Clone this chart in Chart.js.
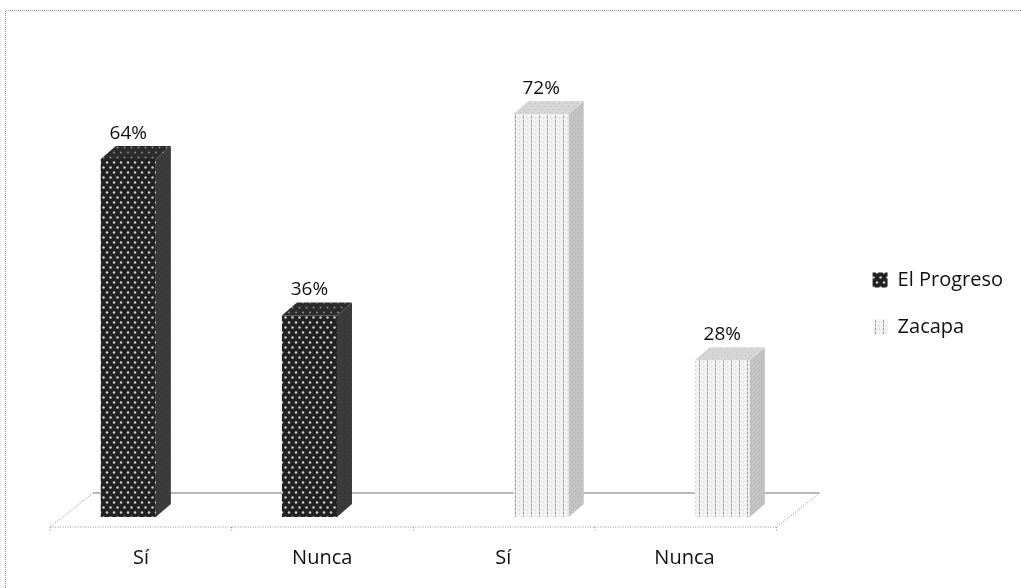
<!DOCTYPE html>
<html><head><meta charset="utf-8">
<script src="https://cdn.jsdelivr.net/npm/chart.js@4.4.1/dist/chart.umd.min.js"></script>
<style>html,body{margin:0;padding:0;background:#fff;} #wrap{width:1021px;height:588px;}</style>
</head><body><div id="wrap"><canvas id="c" width="1021" height="588"></canvas></div>
<script>
const categories = ['Sí', 'Nunca', 'Sí', 'Nunca'];
const seriesNames = ['El Progreso', 'Zacapa'];
const progresoValues = [64, 36, null, null];
const zacapaValues = [null, null, 72, 28];
const yMin = 0, yMax = 89;

const FONT = 'Open Sans';
const canvas = document.getElementById('c');
const ctx = canvas.getContext('2d');

function makePattern(w, h, draw) {
  const c = document.createElement('canvas');
  c.width = w; c.height = h;
  const g = c.getContext('2d');
  draw(g, w, h);
  return ctx.createPattern(c, 'repeat');
}
function dot(g, x, y, r, col) { g.fillStyle = col; g.beginPath(); g.arc(x, y, r, 0, Math.PI * 2); g.fill(); }

const darkFront = makePattern(7, 10, (g, w, h) => {
  g.fillStyle = '#222'; g.fillRect(0, 0, w, h);
  dot(g, 2, 2.5, 1.25, '#cfcfcf'); dot(g, 5.5, 7.5, 1.25, '#cfcfcf');
});
const darkTop = makePattern(7, 10, (g, w, h) => {
  g.fillStyle = '#2c2c2c'; g.fillRect(0, 0, w, h);
  dot(g, 2, 2.5, 1, '#8a8a8a'); dot(g, 5.5, 7.5, 1, '#8a8a8a');
});
const darkSide = makePattern(6, 6, (g, w, h) => {
  g.fillStyle = '#3a3a3a'; g.fillRect(0, 0, w, h);
  g.fillStyle = '#454545'; g.fillRect(0, 0, 1, 1); g.fillRect(3, 3, 1, 1);
});
const lightFront = makePattern(8, 4, (g, w, h) => {
  g.fillStyle = '#f2f2f2'; g.fillRect(0, 0, w, h);
  g.fillStyle = '#9c9c9c'; g.fillRect(3, 0, 1, 2);
  g.fillStyle = '#cfcfcf'; g.fillRect(3, 2, 1, 2);
  g.fillStyle = '#dedede'; g.fillRect(7, 1, 1, 2);
});
const lightTop = makePattern(6, 6, (g, w, h) => {
  g.fillStyle = '#d6d6d6'; g.fillRect(0, 0, w, h);
  g.fillStyle = '#bcbcbc'; g.fillRect(1, 1, 1, 1); g.fillRect(4, 4, 1, 1);
});
const lightSide = makePattern(4, 4, (g, w, h) => {
  g.fillStyle = '#c3c3c3'; g.fillRect(0, 0, w, h);
  g.fillStyle = '#b5b5b5'; g.fillRect(1, 0, 1, 1); g.fillRect(3, 2, 1, 1);
});

const faces = [
  { top: darkTop, side: darkSide },
  { top: lightTop, side: lightSide }
];
const DX = 15, DY = 13;

const borderPlugin = {
  id: 'frame',
  beforeDraw(chart) {
    const c = chart.ctx;
    c.save();
    c.strokeStyle = '#9a9a9a'; c.lineWidth = 1; c.setLineDash([1, 1]);
    c.beginPath();
    c.moveTo(5.5, 600); c.lineTo(5.5, 10.5); c.lineTo(1030, 10.5);
    c.stroke();
    c.restore();
  }
};

const floorPlugin = {
  id: 'floor',
  beforeDatasetsDraw(chart) {
    const c = chart.ctx, ca = chart.chartArea;
    const fl = ca.left - 13, fr = ca.right - 11, fy = ca.bottom + 10;
    const bdx = 43, bdy = 34;
    c.save();
    c.strokeStyle = '#8f8f8f'; c.lineWidth = 1; c.setLineDash([1, 1.5]);
    c.beginPath();
    c.moveTo(fl + bdx, fy - bdy); c.lineTo(fl, fy); c.lineTo(fr, fy); c.lineTo(fr + bdx, fy - bdy);
    c.stroke();
    for (let i = 0; i <= categories.length; i++) {
      const x = fl + i * (fr - fl) / categories.length;
      c.beginPath(); c.moveTo(x, fy); c.lineTo(x, fy + 5); c.stroke();
    }
    c.setLineDash([]);
    c.strokeStyle = '#b8b8b8'; c.lineWidth = 2;
    c.beginPath(); c.moveTo(fl + bdx, fy - bdy); c.lineTo(fr + bdx, fy - bdy); c.stroke();
    c.restore();
  }
};

const depthPlugin = {
  id: 'depth',
  afterDatasetsDraw(chart) {
    const c = chart.ctx;
    c.save();
    chart.data.datasets.forEach((ds, di) => {
      const meta = chart.getDatasetMeta(di);
      meta.data.forEach((el, i) => {
        const v = ds.data[i];
        if (v === null || v === undefined) return;
        const { x, y, base, width } = el.getProps(['x', 'y', 'base', 'width'], true);
        const l = x - width / 2, r = x + width / 2;
        c.fillStyle = faces[di].side;
        c.beginPath();
        c.moveTo(r, y); c.lineTo(r + DX, y - DY); c.lineTo(r + DX, base - DY); c.lineTo(r, base); c.closePath();
        c.fill();
        c.fillStyle = faces[di].top;
        c.beginPath();
        c.moveTo(l, y); c.lineTo(l + DX, y - DY); c.lineTo(r + DX, y - DY); c.lineTo(r, y); c.closePath();
        c.fill();
        c.fillStyle = '#111';
        c.font = '19px "' + FONT + '"';
        c.textAlign = 'center'; c.textBaseline = 'bottom';
        c.fillText(v + '%', x, y - DY - 3);
      });
    });
    c.restore();
  }
};

function draw() {
  new Chart(ctx, {
    type: 'bar',
    data: {
      labels: categories,
      datasets: [
        { label: seriesNames[0], data: progresoValues, backgroundColor: darkFront, borderWidth: 0,
          categoryPercentage: 0.558, barPercentage: 1.09 },
        { label: seriesNames[1], data: zacapaValues, backgroundColor: lightFront, borderWidth: 0,
          categoryPercentage: 0.558, barPercentage: 1.09 }
      ]
    },
    options: {
      responsive: false, animation: false, devicePixelRatio: 1,
      layout: { padding: { top: 19, bottom: 0, left: 0, right: 8 } },
      plugins: {
        legend: {
          position: 'right', align: 'center',
          labels: { boxWidth: 15, boxHeight: 15, padding: 27, color: '#111',
                    font: { family: FONT, size: 20 } }
        },
        tooltip: { enabled: false }
      },
      scales: {
        x: {
          grid: { display: false, drawTicks: false }, border: { display: false },
          ticks: { padding: 29, labelOffset: -12.5, color: '#111', font: { family: FONT, size: 20 } },
          afterFit(s) { s.height = 71; }
        },
        y: {
          min: yMin, max: yMax, display: true,
          grid: { display: false, drawTicks: false }, border: { display: false },
          ticks: { display: false },
          afterFit(s) { s.width = 63; }
        },
        y2: {
          type: 'linear', position: 'right', min: 0, max: 1, display: true,
          grid: { display: false, drawTicks: false }, border: { display: false },
          ticks: { display: false },
          afterFit(s) { s.width = 58; }
        }
      }
    },
    plugins: [borderPlugin, floorPlugin, depthPlugin]
  });
}
if (document.fonts && document.fonts.load) {
  document.fonts.load('20px "' + FONT + '"').then(draw, draw);
} else { draw(); }
</script>
</body></html>
